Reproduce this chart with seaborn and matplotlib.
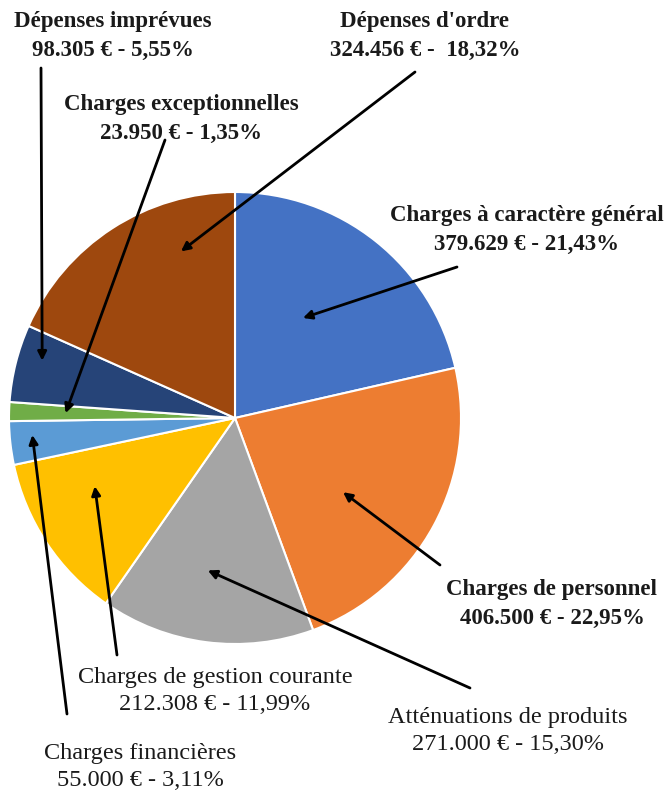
import numpy as np
import matplotlib.pyplot as plt
import seaborn as sns

# Données du budget (sens horaire depuis midi)
postes = ['Charges à caractère général', 'Charges de personnel', 'Atténuations de produits',
          'Charges de gestion courante', 'Charges financières', 'Charges exceptionnelles',
          'Dépenses imprévues', "Dépenses d'ordre"]
montants = [379629, 406500, 271000, 212308, 55000, 23950, 98305, 324456]
valeurs_txt = ['379.629 € - 21,43%', '406.500 € - 22,95%', '271.000 € - 15,30%',
               '212.308 € - 11,99%', '55.000 € - 3,11%', '23.950 € - 1,35%',
               '98.305 € - 5,55%', '324.456 € -  18,32%']
couleurs = ['#4472C4', '#ED7D31', '#A5A5A5', '#FFC000', '#5B9BD5', '#70AD47', '#264478', '#9E480E']

# Placement des étiquettes (pixels, origine en haut à gauche)
pos_texte = [(527, 230), (552, 604), (508, 731), (215, 691), (140, 767), (181, 119), (113, 36), (425, 36)]
pos_queue = [(457, 267), (440, 565), (470, 688), (117, 655), (67, 714), (165, 140), (41, 68), (415, 72)]
rayon_fleche = [0.535, 0.58, 0.685, 0.69, 0.90, 0.75, 0.89, 0.775]
decal_angle = [4.4, -6, -2.8, -7.6, -1.6, 0, -2.5, -15]
gras = [True, True, False, False, False, True, True, True]

sns.set_theme(style='white')
plt.rcParams['font.family'] = ['Liberation Serif', 'DejaVu Serif']

fig = plt.figure(figsize=(6.66, 7.92), dpi=100)
ax = fig.add_axes([0, 0, 1, 1])
centre = (235, 418)
R = 226

# axe y inversé: sens horaire visuel = sens trigo des données
wedges, _ = ax.pie(montants, colors=couleurs, startangle=-90, counterclock=True,
                   center=centre, radius=R, frame=True,
                   wedgeprops=dict(edgecolor='white', linewidth=1.5))
ax.set_xlim(0, 666)
ax.set_ylim(792, 0)
ax.set_aspect('equal')
ax.axis('off')

for w, nom, txt, pt, pq, rf, da, b in zip(wedges, postes, valeurs_txt, pos_texte, pos_queue,
                                         rayon_fleche, decal_angle, gras):
    mid = np.deg2rad((w.theta1 + w.theta2) / 2 - da)
    tip = (centre[0] + rf * R * np.cos(mid), centre[1] + rf * R * np.sin(mid))
    ax.annotate('', xy=tip, xytext=pq,
                arrowprops=dict(arrowstyle='-|>', color='black', lw=2,
                                mutation_scale=13, shrinkA=0, shrinkB=0))
    ax.text(pt[0], pt[1], nom + '\n' + txt, ha='center', va='center',
            fontsize=16.5 if b else 17.5, fontweight='bold' if b else 'normal',
            linespacing=1.5 if b else 1.42, color='#1a1a1a')

fig.savefig('out.png', dpi=100)
